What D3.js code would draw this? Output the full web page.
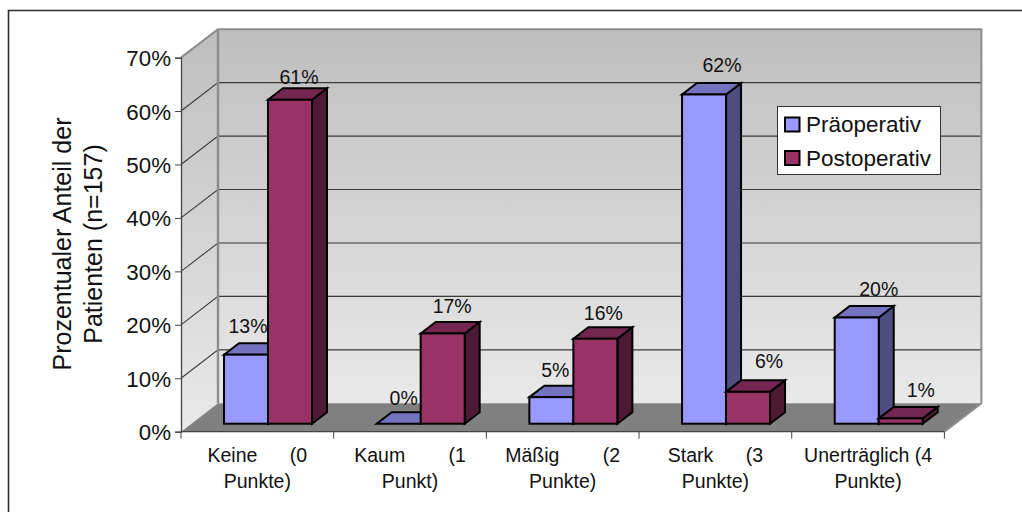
<!DOCTYPE html>
<html lang="de">
<head>
<meta charset="utf-8">
<title>Prozentualer Anteil der Patienten</title>
<script src="https://cdn.jsdelivr.net/npm/d3@7/dist/d3.min.js"></script>
<style>
  html, body { margin: 0; padding: 0; background: #fff; }
  svg { display: block; }
  text { font-family: "Liberation Sans", Arial, sans-serif; fill: #111; white-space: pre; }
</style>
</head>
<body>
<script>
// Chart values
const categories = ["Keine", "Kaum", "Mäßig", "Stark", "Unerträglich"];
const categoryLines = [
  ["Keine      (0", "Punkte)"],
  ["Kaum        (1", "Punkt)"],
  ["Mäßig        (2", "Punkte)"],
  ["Stark      (3", "Punkte)"],
  ["Unerträglich (4", "Punkte)"]
];
const seriesNames = ["Präoperativ", "Postoperativ"];
const preOperative = [13, 0, 5, 62, 20];
const postOperative = [61, 17, 16, 6, 1];
const axisTicks = [0, 10, 20, 30, 40, 50, 60, 70];
const axisTitleLines = ["Prozentualer Anteil der", "Patienten (n=157)"];

// Layout of the pseudo-3D box
const W = 1022, H = 512;
const front = { left: 181, right: 944.4, top: 57.6, bottom: 431.7 };
const depth = { dx: 37, dy: -28.4 };
const barBase = 423.7, barPerPercent = 5.31;
const barDepth = { dx: 15, dy: -11.5 };
const barSlots = [43, 131];

const palette = [
  { front: "#9999ff", top: "#7373bf", side: "#4d4d80" },
  { front: "#993366", top: "#732650", side: "#4d1a33" }
];

// Label shifts from each bar's centre and top: [pre, post]
const labelShift = [
  [[2, -22], [9, -15.5]],
  [[5, -19], [9.5, -20]],
  [[4, -20], [8, -18.7]],
  [[18, -22.6], [21, -24]],
  [[22, -22], [20, -21]]
];

const svg = d3.select("body").append("svg").attr("width", W).attr("height", H);

const x = d3.scaleBand().domain(categories).range([front.left, front.right]);
const y = d3.scaleLinear().domain([0, 70]).range([front.bottom, front.top]);
// Bars stand further back in the box, so they get their own vertical scale
const yBar = d3.scaleLinear().domain([0, 70]).range([barBase, barBase - 70 * barPerPercent]);
const inner = d3.scaleBand().domain(seriesNames).range(barSlots);

const defs = svg.append("defs");
const wallFill = defs.append("linearGradient")
  .attr("id", "wallFill").attr("x1", 0).attr("y1", 0).attr("x2", 0).attr("y2", 1);
wallFill.append("stop").attr("offset", "0%").attr("stop-color", "#bebebe");
wallFill.append("stop").attr("offset", "100%").attr("stop-color", "#e9e9e9");

// Outer frame: top and left edges only
svg.append("path")
  .attr("d", `M1022,10.5H8.5V512`)
  .attr("fill", "none").attr("stroke", "#2b2b2b").attr("stroke-width", 1.6);

const poly = pts => pts.map(p => p.join(",")).join(" ");
const bx0 = front.left + depth.dx, bx1 = front.right + depth.dx;
const yTop = y(70), yBase = y(0);

// Back wall, side wall, floor
svg.append("rect")
  .attr("x", bx0).attr("y", yTop + depth.dy)
  .attr("width", bx1 - bx0).attr("height", yBase - yTop)
  .attr("fill", "url(#wallFill)");
svg.append("polygon")
  .attr("points", poly([[front.left, yTop], [bx0, yTop + depth.dy], [bx0, yBase + depth.dy], [front.left, yBase]]))
  .attr("fill", "url(#wallFill)");
svg.append("polygon")
  .attr("points", poly([[front.left, yBase], [bx0, yBase + depth.dy], [bx1, yBase + depth.dy], [front.right, yBase]]))
  .attr("fill", "#808080");

// Gridlines across both walls
const gridValues = axisTicks.filter(v => v > 0 && v < 70);
svg.append("g").selectAll("path").data(gridValues).join("path")
  .attr("d", v => `M${front.left},${y(v)}L${bx0},${y(v) + depth.dy}H${bx1}`)
  .attr("fill", "none").attr("stroke", "#3a3a3a").attr("stroke-width", 1.1);

// Box edges
svg.append("path")
  .attr("d", `M${front.left},${yTop}L${bx0},${yTop + depth.dy}H${bx1}V${yBase + depth.dy}L${front.right},${yBase}`)
  .attr("fill", "none").attr("stroke", "#8c8c8c").attr("stroke-width", 2);
svg.append("path")
  .attr("d", `M${bx0},${yTop + depth.dy}V${yBase + depth.dy}`)
  .attr("stroke", "#8c8c8c").attr("stroke-width", 2.4);

// Bars, painted left to right so each front covers its neighbour's side
const rows = categories.flatMap((c, i) => seriesNames.map((s, k) => ({
  category: c, series: s, k, i,
  value: (k === 0 ? preOperative : postOperative)[i]
})));
const bar = svg.append("g").selectAll("g").data(rows).join("g")
  .attr("stroke", "#000").attr("stroke-width", 2).attr("stroke-linejoin", "miter");
const bw = inner.bandwidth();
const geom = d => {
  const l = x(d.category) + inner(d.series);
  return { l, r: l + bw, t: yBar(d.value), b: yBar(0) };
};
bar.append("polygon")
  .attr("points", d => {
    const g = geom(d);
    return poly([[g.r, g.t], [g.r + barDepth.dx, g.t + barDepth.dy], [g.r + barDepth.dx, g.b + barDepth.dy], [g.r, g.b]]);
  })
  .attr("fill", d => palette[d.k].side);
bar.append("polygon")
  .attr("points", d => {
    const g = geom(d);
    return poly([[g.l, g.t], [g.l + barDepth.dx, g.t + barDepth.dy], [g.r + barDepth.dx, g.t + barDepth.dy], [g.r, g.t]]);
  })
  .attr("fill", d => palette[d.k].top);
bar.append("rect")
  .attr("x", d => geom(d).l).attr("y", d => geom(d).t)
  .attr("width", bw).attr("height", d => geom(d).b - geom(d).t)
  .attr("fill", d => palette[d.k].front);

// Value labels
svg.append("g").selectAll("text").data(rows).join("text")
  .attr("x", d => { const g = geom(d); return (g.l + g.r) / 2 + labelShift[d.i][d.k][0]; })
  .attr("y", d => geom(d).t + labelShift[d.i][d.k][1])
  .attr("text-anchor", "middle").attr("font-size", 19.5)
  .text(d => d.value + "%");

// Front axes
const yAxis = svg.append("g").attr("transform", `translate(${front.left},0)`)
  .call(d3.axisLeft(y).tickValues(axisTicks).tickFormat(d => d + "%").tickSize(6).tickPadding(4));
yAxis.selectAll("text").attr("font-size", 22.3).attr("font-family", null).attr("dy", "0.36em").style("fill", "#111");
yAxis.selectAll("line").attr("stroke", "#444");
yAxis.select(".domain").attr("stroke", "#444").attr("stroke-width", 1.3);

const xAxis = svg.append("g").attr("transform", `translate(0,${front.bottom})`);
xAxis.append("line").attr("x1", front.left).attr("x2", front.right)
  .attr("stroke", "#444").attr("stroke-width", 1.3);
xAxis.selectAll("line.tick").data([...categories.map(c => x(c)), front.right]).join("line")
  .attr("class", "tick").attr("x1", d => d).attr("x2", d => d).attr("y1", 0).attr("y2", 7)
  .attr("stroke", "#444");
xAxis.selectAll("g.cat").data(categories).join("g").attr("class", "cat")
  .attr("transform", c => `translate(${x(c) + x.bandwidth() / 2},0)`)
  .selectAll("text").data(c => categoryLines[categories.indexOf(c)]).join("text")
  .attr("y", (d, i) => 30 + i * 26)
  .attr("text-anchor", "middle").attr("font-size", 19.5)
  .text(d => d);

// Rotated axis title
svg.append("g").attr("transform", "translate(0,244)")
  .selectAll("text").data(axisTitleLines).join("text")
  .attr("transform", (d, i) => `translate(${71 + i * 31},0) rotate(-90)`)
  .attr("text-anchor", "middle").attr("font-size", 25)
  .text(d => d);

// Legend
const legend = svg.append("g").attr("transform", "translate(777.5,106.5)");
legend.append("rect").attr("width", 163).attr("height", 68)
  .attr("fill", "#fff").attr("stroke", "#333").attr("stroke-width", 1);
const entry = legend.selectAll("g").data(seriesNames).join("g")
  .attr("transform", (d, i) => `translate(0,${i * 33.5})`);
entry.append("rect").attr("x", 7.5).attr("y", 11).attr("width", 14.5).attr("height", 14)
  .attr("fill", (d, i) => palette[i].front).attr("stroke", "#000").attr("stroke-width", 2);
entry.append("text").attr("x", 28.5).attr("y", 25.5).attr("font-size", 22.5).text(d => d);
</script>
</body>
</html>
